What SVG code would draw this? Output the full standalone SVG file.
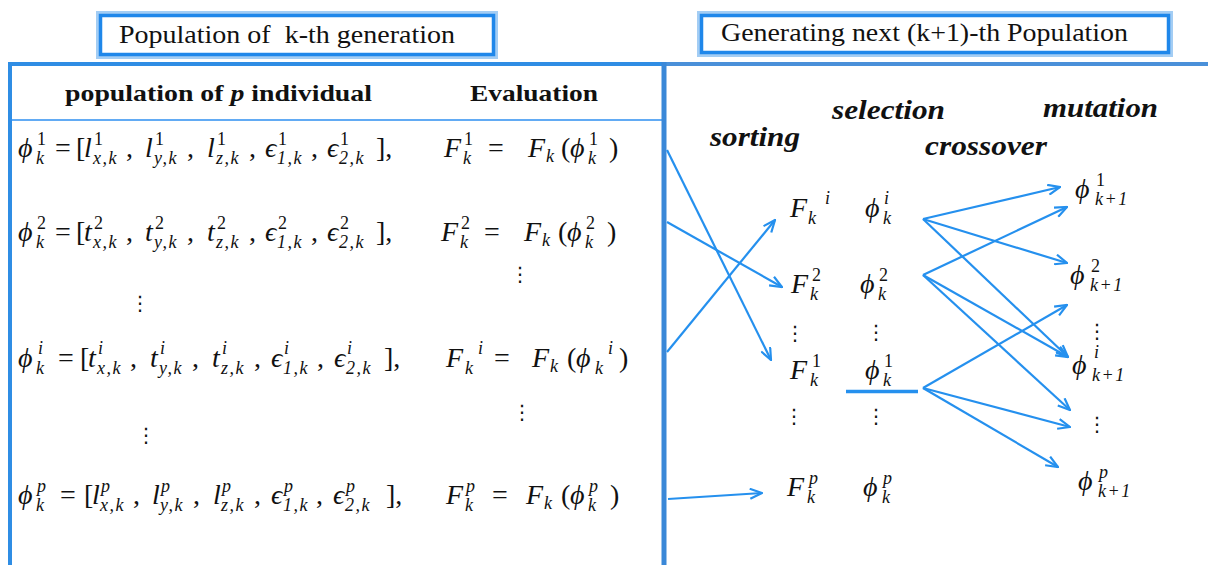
<svg xmlns="http://www.w3.org/2000/svg" width="1208" height="565" viewBox="0 0 1208 565">
<style>
.t{font-family:"Liberation Serif","Times New Roman",Times,"DejaVu Serif",serif;fill:#111}
.title{font-size:25px;white-space:pre}
.hdr{font-size:23px;font-weight:bold}
.op{font-family:"Liberation Serif","Times New Roman",Times,"DejaVu Serif",serif;font-size:28px;font-weight:bold;font-style:italic;fill:#111}
.m{font-family:"Liberation Serif","Times New Roman",Times,"DejaVu Serif",serif;font-size:28px;font-style:italic;fill:#111}
.u{font-style:normal}
.s{font-size:18px;letter-spacing:1.5px}
.d{font-family:"DejaVu Sans",sans-serif;font-size:20px;fill:#111;text-anchor:middle}
.c{stroke:#2590ee;stroke-width:2.2;fill:none}
.ob{fill:none;stroke:#a3cdf4;stroke-width:3}
.ib{fill:none;stroke:#1f87ea;stroke-width:3.5}
</style>
<defs>
<marker id="ah" viewBox="0 0 14 12" refX="13" refY="6" markerWidth="14" markerHeight="12" markerUnits="userSpaceOnUse" orient="auto">
<path d="M1,1 L13,6 L1,11" fill="none" stroke="#2590ee" stroke-width="2.2"/>
</marker>
</defs>
<rect width="1208" height="565" fill="#fff"/>

<g id="title-left">
<rect class="ob" x="97.5" y="12.5" width="399" height="45"/>
<rect class="ib" x="100.5" y="15.5" width="393" height="39"/>
<text class="t title" x="119" y="43" textLength="336" lengthAdjust="spacingAndGlyphs">Population of  k-th generation</text>
</g>
<g id="title-right">
<rect class="ob" x="698.5" y="12.5" width="473" height="43"/>
<rect class="ib" x="701.5" y="15.5" width="467" height="37"/>
<text class="t title" x="721" y="41" textLength="407" lengthAdjust="spacingAndGlyphs">Generating next (k+1)-th Population</text>
</g>

<g id="panel-left">
<line x1="10" y1="64" x2="664" y2="64" stroke="#2f8de4" stroke-width="4"/>
<line x1="10" y1="62" x2="10" y2="565" stroke="#2f8de4" stroke-width="4"/>
<line x1="10" y1="120" x2="662" y2="120" stroke="#2e8ff0" stroke-width="1.5"/>
<text class="t hdr" x="65" y="101" textLength="307" lengthAdjust="spacingAndGlyphs">population of <tspan font-style="italic">p</tspan> individual</text>
<text class="t hdr" x="470" y="101" textLength="128" lengthAdjust="spacingAndGlyphs">Evaluation</text>
</g>
<g id="panel-right">
<line x1="664" y1="64" x2="1208" y2="64" stroke="#4a90d9" stroke-width="4"/>
<line x1="664" y1="62" x2="664" y2="565" stroke="#3a88d8" stroke-width="5"/>
<text class="op" x="710" y="146" textLength="90" lengthAdjust="spacingAndGlyphs">sorting</text>
<text class="op" x="832" y="119" textLength="113" lengthAdjust="spacingAndGlyphs">selection</text>
<text class="op" x="925" y="155" textLength="122" lengthAdjust="spacingAndGlyphs">crossover</text>
<text class="op" x="1043" y="117" textLength="115" lengthAdjust="spacingAndGlyphs">mutation</text>
</g>

<g id="row-1">
<text class="m"><tspan x="18" y="157">ϕ</tspan><tspan class="s u" x="37" y="145">1</tspan><tspan class="s" x="36" y="164">k</tspan><tspan class="u" x="55" y="157">=</tspan><tspan class="u" x="76" y="157">[</tspan><tspan x="84" y="157">l</tspan><tspan class="s u" x="94" y="145">1</tspan><tspan class="s" x="93" y="164">x,k</tspan><tspan class="u" x="126" y="157">,</tspan><tspan x="145" y="157">l</tspan><tspan class="s u" x="155" y="145">1</tspan><tspan class="s" x="154" y="164">y,k</tspan><tspan class="u" x="187" y="157">,</tspan><tspan x="207" y="157">l</tspan><tspan class="s u" x="217" y="145">1</tspan><tspan class="s" x="216" y="164">z,k</tspan><tspan class="u" x="249" y="157">,</tspan><tspan x="265" y="157">ϵ</tspan><tspan class="s u" x="278" y="145">1</tspan><tspan class="s" x="277" y="164">1,k</tspan><tspan class="u" x="311" y="157">,</tspan><tspan x="327" y="157">ϵ</tspan><tspan class="s u" x="340" y="145">1</tspan><tspan class="s" x="339" y="164">2,k</tspan><tspan class="u" x="376" y="157">],</tspan><tspan x="444" y="157">F</tspan><tspan class="s u" x="464" y="145">1</tspan><tspan class="s" x="463" y="164">k</tspan><tspan class="u" x="488" y="157">=</tspan><tspan x="528" y="157">F</tspan><tspan class="s" x="546" y="162">k</tspan><tspan class="u" x="561" y="157">(</tspan><tspan x="570" y="157">ϕ</tspan><tspan class="s u" x="589" y="145">1</tspan><tspan class="s" x="588" y="164">k</tspan><tspan class="u" x="609" y="157">)</tspan></text>
</g>

<g id="row-2">
<text class="m"><tspan x="18" y="241">ϕ</tspan><tspan class="s u" x="37" y="229">2</tspan><tspan class="s" x="36" y="248">k</tspan><tspan class="u" x="55" y="241">=</tspan><tspan class="u" x="76" y="241">[</tspan><tspan x="84" y="241">t</tspan><tspan class="s u" x="94" y="229">2</tspan><tspan class="s" x="93" y="248">x,k</tspan><tspan class="u" x="126" y="241">,</tspan><tspan x="145" y="241">t</tspan><tspan class="s u" x="155" y="229">2</tspan><tspan class="s" x="154" y="248">y,k</tspan><tspan class="u" x="187" y="241">,</tspan><tspan x="207" y="241">t</tspan><tspan class="s u" x="217" y="229">2</tspan><tspan class="s" x="216" y="248">z,k</tspan><tspan class="u" x="249" y="241">,</tspan><tspan x="265" y="241">ϵ</tspan><tspan class="s u" x="278" y="229">2</tspan><tspan class="s" x="277" y="248">1,k</tspan><tspan class="u" x="311" y="241">,</tspan><tspan x="327" y="241">ϵ</tspan><tspan class="s u" x="340" y="229">2</tspan><tspan class="s" x="339" y="248">2,k</tspan><tspan class="u" x="376" y="241">],</tspan><tspan x="441" y="241">F</tspan><tspan class="s u" x="461" y="229">2</tspan><tspan class="s" x="460" y="248">k</tspan><tspan class="u" x="484" y="241">=</tspan><tspan x="524" y="241">F</tspan><tspan class="s" x="542" y="246">k</tspan><tspan class="u" x="558" y="241">(</tspan><tspan x="567" y="241">ϕ</tspan><tspan class="s u" x="586" y="229">2</tspan><tspan class="s" x="585" y="248">k</tspan><tspan class="u" x="607" y="241">)</tspan></text>
</g>

<g id="row-i">
<text class="m"><tspan x="18" y="367">ϕ</tspan><tspan class="s" x="38" y="354">i</tspan><tspan class="s" x="36" y="374">k</tspan><tspan class="u" x="58" y="367">=</tspan><tspan class="u" x="80" y="367">[</tspan><tspan x="88" y="367">t</tspan><tspan class="s" x="98" y="354">i</tspan><tspan class="s" x="97" y="374">x,k</tspan><tspan class="u" x="130" y="367">,</tspan><tspan x="150" y="367">t</tspan><tspan class="s" x="160" y="354">i</tspan><tspan class="s" x="159" y="374">y,k</tspan><tspan class="u" x="192" y="367">,</tspan><tspan x="212" y="367">t</tspan><tspan class="s" x="222" y="354">i</tspan><tspan class="s" x="221" y="374">z,k</tspan><tspan class="u" x="254" y="367">,</tspan><tspan x="271" y="367">ϵ</tspan><tspan class="s" x="284" y="354">i</tspan><tspan class="s" x="283" y="374">1,k</tspan><tspan class="u" x="317" y="367">,</tspan><tspan x="334" y="367">ϵ</tspan><tspan class="s" x="347" y="354">i</tspan><tspan class="s" x="346" y="374">2,k</tspan><tspan class="u" x="384" y="367">],</tspan><tspan x="446" y="367">F</tspan><tspan class="s" x="465" y="374">k</tspan><tspan class="s" x="478" y="354">i</tspan><tspan class="u" x="494" y="367">=</tspan><tspan x="532" y="367">F</tspan><tspan class="s" x="550" y="372">k</tspan><tspan class="u" x="567" y="367">(</tspan><tspan x="576" y="367">ϕ</tspan><tspan class="s" x="595" y="374">k</tspan><tspan class="s" x="608" y="354">i</tspan><tspan class="u" x="619" y="367">)</tspan></text>
</g>

<g id="row-p">
<text class="m"><tspan x="18" y="504">ϕ</tspan><tspan class="s" x="37" y="492">p</tspan><tspan class="s" x="36" y="511">k</tspan><tspan class="u" x="60" y="504">=</tspan><tspan class="u" x="84" y="504">[</tspan><tspan x="92" y="504">l</tspan><tspan class="s" x="101" y="492">p</tspan><tspan class="s" x="100" y="511">x,k</tspan><tspan class="u" x="133" y="504">,</tspan><tspan x="152" y="504">l</tspan><tspan class="s" x="161" y="492">p</tspan><tspan class="s" x="160" y="511">y,k</tspan><tspan class="u" x="193" y="504">,</tspan><tspan x="213" y="504">l</tspan><tspan class="s" x="222" y="492">p</tspan><tspan class="s" x="221" y="511">z,k</tspan><tspan class="u" x="254" y="504">,</tspan><tspan x="271" y="504">ϵ</tspan><tspan class="s" x="284" y="492">p</tspan><tspan class="s" x="283" y="511">1,k</tspan><tspan class="u" x="316" y="504">,</tspan><tspan x="333" y="504">ϵ</tspan><tspan class="s" x="346" y="492">p</tspan><tspan class="s" x="345" y="511">2,k</tspan><tspan class="u" x="386" y="504">],</tspan><tspan x="446" y="504">F</tspan><tspan class="s" x="466" y="492">p</tspan><tspan class="s" x="465" y="511">k</tspan><tspan class="u" x="492" y="504">=</tspan><tspan x="526" y="504">F</tspan><tspan class="s" x="544" y="509">k</tspan><tspan class="u" x="561" y="504">(</tspan><tspan x="570" y="504">ϕ</tspan><tspan class="s" x="589" y="492">p</tspan><tspan class="s" x="588" y="511">k</tspan><tspan class="u" x="610" y="504">)</tspan></text>
</g>

<g id="dots-left">
<text class="d" x="520" y="281">⋮</text>
<text class="d" x="140" y="310">⋮</text>
<text class="d" x="522" y="419">⋮</text>
<text class="d" x="146" y="442">⋮</text>
</g>

<g id="sorted-fitness">
<text class="m"><tspan x="790" y="217">F</tspan><tspan class="s" x="808" y="224">k</tspan><tspan class="s" x="825" y="204">i</tspan></text>
<text class="m"><tspan x="791" y="293">F</tspan><tspan class="s u" x="812" y="281">2</tspan><tspan class="s" x="810" y="300">k</tspan></text>
<text class="m"><tspan x="790" y="379">F</tspan><tspan class="s u" x="812" y="367">1</tspan><tspan class="s" x="810" y="386">k</tspan></text>
<text class="m"><tspan x="787" y="496">F</tspan><tspan class="s" x="809" y="484">p</tspan><tspan class="s" x="807" y="503">k</tspan></text>
<text class="d" x="795" y="340">⋮</text>
<text class="d" x="794" y="423">⋮</text>
</g>

<g id="selected">
<text class="m"><tspan x="865" y="217">ϕ</tspan><tspan class="s" x="884" y="204">i</tspan><tspan class="s" x="883" y="224">k</tspan></text>
<text class="m"><tspan x="860" y="293">ϕ</tspan><tspan class="s u" x="879" y="281">2</tspan><tspan class="s" x="878" y="300">k</tspan></text>
<text class="m"><tspan x="865" y="379">ϕ</tspan><tspan class="s u" x="884" y="367">1</tspan><tspan class="s" x="883" y="386">k</tspan></text>
<text class="m"><tspan x="863" y="496">ϕ</tspan><tspan class="s" x="883" y="484">p</tspan><tspan class="s" x="882" y="503">k</tspan></text>
<text class="d" x="876" y="339">⋮</text>
<text class="d" x="876" y="423">⋮</text>
<line x1="846" y1="391.5" x2="918" y2="391.5" stroke="#2590ee" stroke-width="3.5"/>
</g>

<g id="next-population">
<text class="m"><tspan x="1075" y="198">ϕ</tspan><tspan class="s u" x="1096" y="186">1</tspan><tspan class="s" x="1095" y="205">k+1</tspan></text>
<text class="m"><tspan x="1070" y="284">ϕ</tspan><tspan class="s u" x="1091" y="272">2</tspan><tspan class="s" x="1090" y="291">k+1</tspan></text>
<text class="m"><tspan x="1072" y="374">ϕ</tspan><tspan class="s" x="1094" y="358">i</tspan><tspan class="s" x="1092" y="381">k+1</tspan></text>
<text class="m"><tspan x="1078" y="490">ϕ</tspan><tspan class="s" x="1099" y="478">p</tspan><tspan class="s" x="1098" y="497">k+1</tspan></text>
<text class="d" x="1097" y="338">⋮</text>
<text class="d" x="1097" y="431">⋮</text>
</g>

<g id="connectors">
<line class="c" x1="667" y1="150" x2="771" y2="360" marker-end="url(#ah)"/>
<line class="c" x1="667" y1="222" x2="782" y2="287" marker-end="url(#ah)"/>
<line class="c" x1="667" y1="352" x2="775" y2="220" marker-end="url(#ah)"/>
<line class="c" x1="668" y1="499" x2="762" y2="493" marker-end="url(#ah)"/>
<line class="c" x1="923" y1="219" x2="1060" y2="187" marker-end="url(#ah)"/>
<line class="c" x1="923" y1="219" x2="1067" y2="263" marker-end="url(#ah)"/>
<line class="c" x1="923" y1="219" x2="1068" y2="357" marker-end="url(#ah)"/>
<line class="c" x1="923" y1="275" x2="1067" y2="207" marker-end="url(#ah)"/>
<line class="c" x1="923" y1="275" x2="1068" y2="357" marker-end="url(#ah)"/>
<line class="c" x1="923" y1="275" x2="1070" y2="410" marker-end="url(#ah)"/>
<line class="c" x1="923" y1="388" x2="1067" y2="305" marker-end="url(#ah)"/>
<line class="c" x1="923" y1="388" x2="1070" y2="427" marker-end="url(#ah)"/>
<line class="c" x1="923" y1="388" x2="1058" y2="467" marker-end="url(#ah)"/>
</g>
</svg>
